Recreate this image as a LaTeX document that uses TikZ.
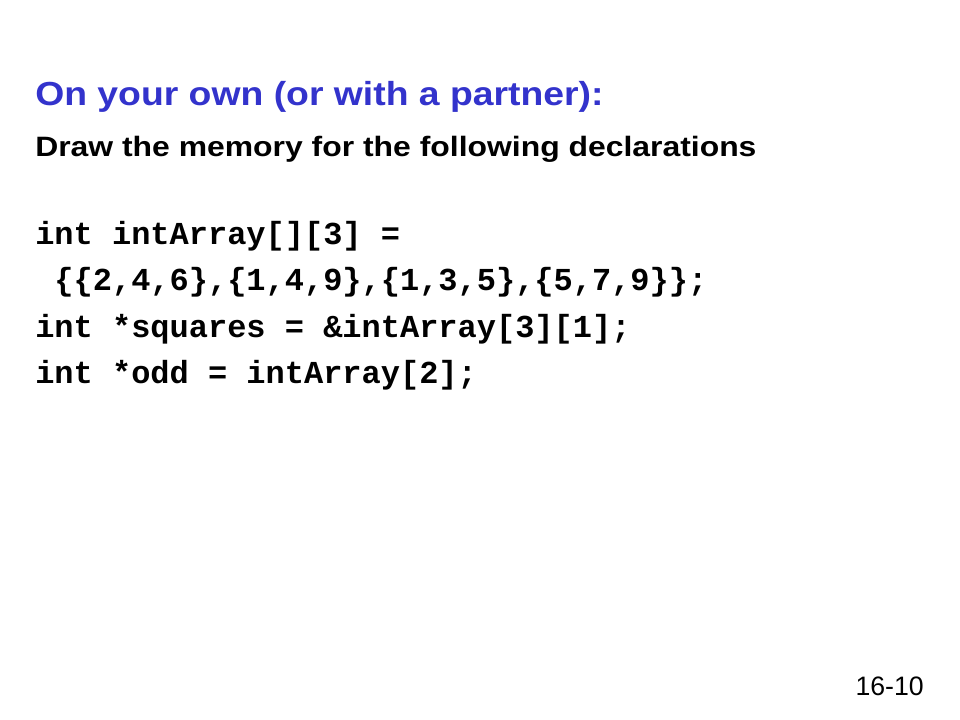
\documentclass[tikz,border=0pt]{standalone}
\usepackage{fontspec}
\setmainfont{Liberation Sans}
\newfontfamily\codefont{Liberation Mono}
\definecolor{titleblue}{RGB}{51,51,204}
\begin{document}
\begin{tikzpicture}[x=0.75pt,y=-0.75pt,
  txt/.style={anchor=base west, inner sep=0pt},
  code/.style={txt, font=\codefont\bfseries\fontsize{24}{28}\selectfont}]
\useasboundingbox (0,0) rectangle (960,720);
\fill[white] (0,0) rectangle (960,720);
\node[txt, text=titleblue, font=\bfseries\fontsize{25}{30}\selectfont] (title) at (35,106) {\scalebox{1.12}[1]{On your own (or with a partner):}};
\node[txt, font=\bfseries\fontsize{21}{25}\selectfont] (sub) at (35,157) {\scalebox{1.139}[1]{Draw the memory for the following declarations}};
\node[code] (l1) at (35,245) {int intArray[][3] =};
\node[code] (l2) at (35,291) {\ \{\{2,4,6\},\{1,4,9\},\{1,3,5\},\{5,7,9\}\};};
\node[code] (l3) at (35,337) {int *squares = \&intArray[3][1];};
\node[code] (l4) at (35,383) {int *odd = intArray[2];};
\node[anchor=base east, inner sep=0pt, font=\fontsize{20}{24}\selectfont] (num) at (924,695) {16-10};
\end{tikzpicture}
\end{document}
